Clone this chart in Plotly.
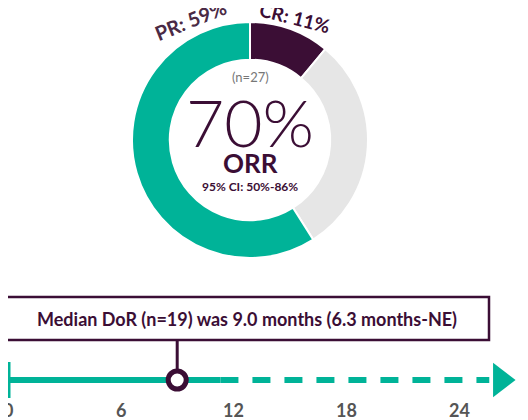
import plotly.graph_objects as go

segments = ["CR", "NR", "PR"]
shares = [11, 30, 59]
seg_colors = ["#3B0E35", "#E6E6E6", "#00B398"]
ticks = [0, 6, 12, 18, 24]
median_dor = 9.0
solid_end = 11.3
arrow_end = 25.6

TEAL = "#00B398"; PURP = "#3B0E35"
OFF = 8  # page body margin
def px(x): return (x - OFF) / 528
def py(y): return 1 - (y - OFF) / 420

fig = go.Figure()
fig.add_trace(go.Pie(labels=segments, values=shares, hole=0.68, sort=False, direction="clockwise",
                     rotation=0, marker=dict(colors=seg_colors, line=dict(color="white", width=2)),
                     textinfo="none", hoverinfo="skip", showlegend=False,
                     domain=dict(x=[px(250-118), px(250+118)], y=[py(258), py(22)])))
fig.add_trace(go.Scatter(x=[0, solid_end], y=[380, 380], mode="lines", line=dict(color=TEAL, width=6), showlegend=False))
fig.add_trace(go.Scatter(x=[solid_end, arrow_end], y=[380, 380], mode="lines", line=dict(color=TEAL, width=6, dash="18px,14px"), showlegend=False))
fig.add_trace(go.Scatter(x=[0, 0], y=[362, 398], mode="lines", line=dict(color=TEAL, width=5), showlegend=False))
fig.add_trace(go.Scatter(x=[26.2], y=[380], mode="markers", marker=dict(symbol="triangle-right", size=30, color=TEAL), showlegend=False))
fig.add_trace(go.Scatter(x=[median_dor, median_dor], y=[340, 372], mode="lines", line=dict(color=PURP, width=3), showlegend=False))
fig.add_trace(go.Scatter(x=[median_dor], y=[380], mode="markers", marker=dict(size=18, color="white", line=dict(color=PURP, width=5)), showlegend=False))
fig.add_shape(type="rect", xref="paper", yref="y", x0=px(5), x1=px(489), y0=297, y1=340,
              line=dict(color=PURP, width=2.5), fillcolor="white")

fig.add_annotation(x=px(247), y=319, xref="paper", yref="y", showarrow=False,
                   text="<b>Median DoR (n=19) was 9.0 months (6.3 months-NE)</b>",
                   font=dict(family="Lato", size=18, color=PURP))
for t in ticks:
    fig.add_annotation(x=t, y=410, xref="x", yref="y", showarrow=False, text=f"<b>{t}</b>",
                       font=dict(family="Lato", size=18, color="#555555"))
fig.add_annotation(x=px(250), y=77, xref="y domain" and "paper", yref="y", showarrow=False, text="(n=27)",
                   font=dict(family="Lato", size=13, color="#777777"))
fig.add_annotation(x=px(250), y=121, xref="paper", yref="y", showarrow=False, text="70%",
                   font=dict(family="Lato", size=66, color=PURP, weight=300))
fig.add_annotation(x=px(250), y=163, xref="paper", yref="y", showarrow=False, text="<b>ORR</b>",
                   font=dict(family="Lato", size=26, color=PURP))
fig.add_annotation(x=px(250), y=186, xref="paper", yref="y", showarrow=False, text="<b>95% CI: 50%-86%</b>",
                   font=dict(family="Lato", size=12, color=PURP))
fig.add_annotation(x=px(190), y=20, xref="paper", yref="y", showarrow=False, text="<b>PR: 59%</b>", textangle=-22,
                   font=dict(family="Lato", size=20, color="#4a2a45"))
fig.add_annotation(x=px(295), y=17, xref="paper", yref="y", showarrow=False, text="<b>CR: 11%</b>", textangle=14,
                   font=dict(family="Lato", size=19, color=PURP))

fig.update_xaxes(range=[0, 528/18.8], visible=False)
fig.update_yaxes(range=[420 + OFF, OFF], visible=False)
fig.update_layout(width=528, height=420, margin=dict(l=0, r=0, t=0, b=0),
                  paper_bgcolor="white", plot_bgcolor="rgba(0,0,0,0)")
fig.write_html("out.html")
